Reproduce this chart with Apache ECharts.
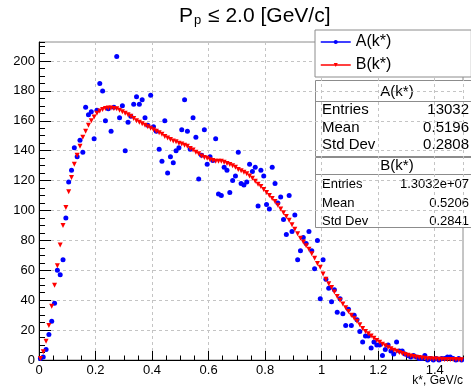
<!DOCTYPE html>
<html>
<head>
<meta charset="utf-8">
<script src="https://cdn.jsdelivr.net/npm/echarts@6/dist/echarts.min.js"></script>
<style>
  html, body { margin: 0; padding: 0; background: #fff; }
  #chart { width: 471px; height: 389px; }
</style>
</head>
<body>
<div id="chart"></div>
<script>
// histogram binning of k* (GeV/c)
const nBins = 150
const kMin = 0
const kMax = 1.5
const binCenters = []
for (let i = 0; i < nBins; i++) {
  binCenters.push(+(kMin + (i + 0.5) * (kMax - kMin) / nBins).toFixed(4))
}

const seriesA = [
  1, 2, 7, 17, 26, 38, 60, 57, 67, 95,
  119, 127, 142, 136, 147, 139, 169, 164, 166, 148,
  167, 185, 180, 160, 168, 153, 169, 203, 162, 170,
  140, 159, 163, 171, 176, 171, 174, 162, 157, 177,
  156, 153, 141, 133, 160, 125, 136, 132, 140, 142,
  154, 174, 153, 141, 162, 149, 121, 137, 154, 131,
  136, 133.5, 148, 111, 110, 129, 127, 112, 120, 123,
  139, 118, 117, 119, 131, 126, 129, 103, 127, 123,
  104, 101, 129, 118, 105, 109, 94, 84, 110, 86,
  97, 67, 73, 82, 78, 86, 73, 61, 80, 41,
  67, 54, 48, 39, 47, 32, 41, 31, 23, 34,
  23, 30, 27, 19, 12, 16, 16, 8, 12, 10,
  10, 3, 7, 10, 6, 4, 12, 6, 6, 4,
  3, 2, 3, 2, 1, 1, 3, 0, 1, 0,
  1, 0, 1, 1, 2, 2, 1, 0, 1, 0
]

// B(k*) - reference distribution, scaled
const seriesB = [
  1, 5.5, 12.5, 23, 36, 50, 63, 77, 90, 102,
  112.5, 122, 131, 137, 143, 149, 153, 157, 160, 162.5,
  165, 166.5, 167.5, 168.3, 168.5, 168.5, 168.3, 168, 167, 166,
  165, 164, 163, 161.5, 160, 159, 158, 157, 156, 155,
  154, 153, 152, 151, 149.5, 148.5, 147.5, 146.5, 146, 145,
  144.5, 143.7, 143, 141.5, 140.5, 139, 138, 136.5, 135.5, 135,
  134, 133.5, 133, 133, 133, 132.3, 131.5, 130.8, 130, 129,
  127.5, 126.5, 125.5, 124.5, 123, 121.5, 119.5, 117.5, 116, 114,
  112, 110, 108, 106, 103.5, 101, 98.5, 96, 93.5, 90.5,
  87.5, 84.5, 81.5, 79, 76.5, 74, 71, 68, 64.5, 62,
  57.5, 54, 51, 48.5, 45.5, 42.5, 40, 37.5, 35, 32.5,
  30, 28, 26, 23.5, 21, 19, 17.5, 16, 14.5, 13,
  11.8, 10.5, 9.5, 8.5, 7.5, 6.6, 5.8, 5, 4.3, 3.7,
  3.2, 2.7, 2.3, 1.9, 1.6, 1.3, 1.1, 0.9, 0.8, 0.7,
  0.6, 0.5, 0.5, 0.4, 0.4, 0.3, 0.3, 0.3, 0.2, 0.2
]

const statsA = [['Entries', '13032'], ['Mean', '0.5196'], ['Std Dev', '0.2808']]
const statsB = [['Entries', '1.3032e+07'], ['Mean', '0.5206'], ['Std Dev', '0.2841']]

const FONT = 'Liberation Sans, Arial, Helvetica, sans-serif'
const yTop = 212.7

function pairs(vals) {
  return vals.map((v, i) => [binCenters[i], v])
}

// stats boxes drawn like ROOT's TPaveStats
function statBox(title, rows, top, height, rowFont, titleY, sepY, rowYs) {
  const els = [
    {type: 'rect', shape: {x: 315.5, y: top + 0.5, width: 165, height: height},
      style: {fill: '#fff', stroke: '#8c8c8c', lineWidth: 1}},
    {type: 'text', x: 397, y: titleY,
      style: {text: title, font: '15px ' + FONT, fill: '#000', align: 'center', verticalAlign: 'middle'}},
    {type: 'line', shape: {x1: 315, y1: sepY + 0.5, x2: 471, y2: sepY + 0.5},
      style: {stroke: '#8c8c8c', lineWidth: 1}}
  ]
  rows.forEach((r, i) => {
    els.push({type: 'text', x: 322, y: rowYs[i],
      style: {text: r[0], font: rowFont + 'px ' + FONT, fill: '#000', verticalAlign: 'middle'}})
    els.push({type: 'text', x: 469, y: rowYs[i],
      style: {text: r[1], font: rowFont + 'px ' + FONT, fill: '#000', align: 'right', verticalAlign: 'middle'}})
  })
  return els
}

const chart = echarts.init(document.getElementById('chart'), null, {renderer: 'canvas'})

const option = {
  animation: false,
  backgroundColor: '#fff',
  title: {
    text: '{m|P}{s|p}{m| \u2264 2.0 [GeV/c]}',
    left: 179,
    top: 3,
    padding: 0,
    textStyle: {
      fontWeight: 'normal',
      rich: {
        m: {fontSize: 21, fontFamily: FONT, fontWeight: 'normal', color: '#000', lineHeight: 24, verticalAlign: 'bottom'},
        s: {fontSize: 13, fontFamily: FONT, fontWeight: 'normal', color: '#000', lineHeight: 12, verticalAlign: 'bottom', padding: [0, 1, 0, 1]}
      }
    }
  },
  legend: {
    orient: 'vertical',
    left: 315,
    top: 30,
    itemWidth: 30,
    itemHeight: 5,
    itemGap: 5,
    padding: [3, 80, 3, 5],
    backgroundColor: '#fff',
    borderColor: '#8c8c8c',
    borderWidth: 1,
    textStyle: {fontSize: 16, fontFamily: FONT, color: '#000', lineHeight: 18},
    lineStyle: {width: 1.5, opacity: 1},
    data: ['A(k*)', 'B(k*)']
  },
  grid: {
    left: 39, right: 8, top: 42, bottom: 29,
    show: true, borderColor: '#8c8c8c', borderWidth: 1, backgroundColor: 'transparent'
  },
  xAxis: [
    {
      type: 'value', min: kMin, max: kMax, interval: 0.2,
      axisLine: {show: true, lineStyle: {color: '#000', width: 1}},
      axisTick: {show: true, inside: true, length: 9, lineStyle: {color: '#000'}},
      axisLabel: {fontSize: 13, fontFamily: FONT, color: '#000', margin: 4, showMaxLabel: false,
        formatter: v => String(+v.toFixed(2))},
      splitLine: {show: true, lineStyle: {color: '#c4c4c4', type: [3, 3], width: 1}}
    },
    {
      type: 'value', min: kMin, max: kMax, interval: 0.05, position: 'bottom',
      axisLine: {show: false},
      axisTick: {show: true, inside: true, length: 4.5, lineStyle: {color: '#000'}},
      axisLabel: {show: false},
      splitLine: {show: false}
    }
  ],
  yAxis: [
    {
      type: 'value', min: 0, max: yTop, interval: 20,
      axisLine: {show: true, lineStyle: {color: '#000', width: 1}},
      axisTick: {show: true, inside: true, length: 12, lineStyle: {color: '#000'}},
      axisLabel: {fontSize: 13, fontFamily: FONT, color: '#000', margin: 4, showMaxLabel: false},
      splitLine: {show: true, lineStyle: {color: '#c4c4c4', type: [3, 3], width: 1}}
    },
    {
      type: 'value', min: 0, max: yTop, interval: 5, position: 'left',
      axisLine: {show: false},
      axisTick: {show: true, inside: true, length: 6, lineStyle: {color: '#000'}},
      axisLabel: {show: false},
      splitLine: {show: false}
    }
  ],
  series: [
    {
      name: 'A(k*)',
      type: 'line',
      data: pairs(seriesA),
      symbol: 'circle',
      symbolSize: 5,
      showAllSymbol: true,
      color: '#0000ff',
      itemStyle: {color: '#0000ff'},
      lineStyle: {width: 0, opacity: 0},
      emphasis: {disabled: true}
    },
    {
      name: 'B(k*)',
      type: 'line',
      data: pairs(seriesB),
      symbol: 'triangle',
      symbolRotate: 180,
      symbolSize: 5,
      showAllSymbol: true,
      color: '#ff0000',
      itemStyle: {color: '#ff0000'},
      lineStyle: {width: 0, opacity: 0},
      emphasis: {disabled: true}
    }
  ],
  graphic: [
    // x axis title, right aligned under the axis end like ROOT
    {type: 'text', right: 8, top: 375,
      style: {text: 'k*, GeV/c', font: '12px ' + FONT, fill: '#000'}},
    ...statBox('A(k*)', statsA, 80, 76, 15, 92, 101, [109.5, 127.5, 145]),
    ...statBox('B(k*)', statsB, 157, 70, 13, 165.5, 174, [184.5, 203, 221])
  ]
}

chart.setOption(option)
</script>
</body>
</html>
